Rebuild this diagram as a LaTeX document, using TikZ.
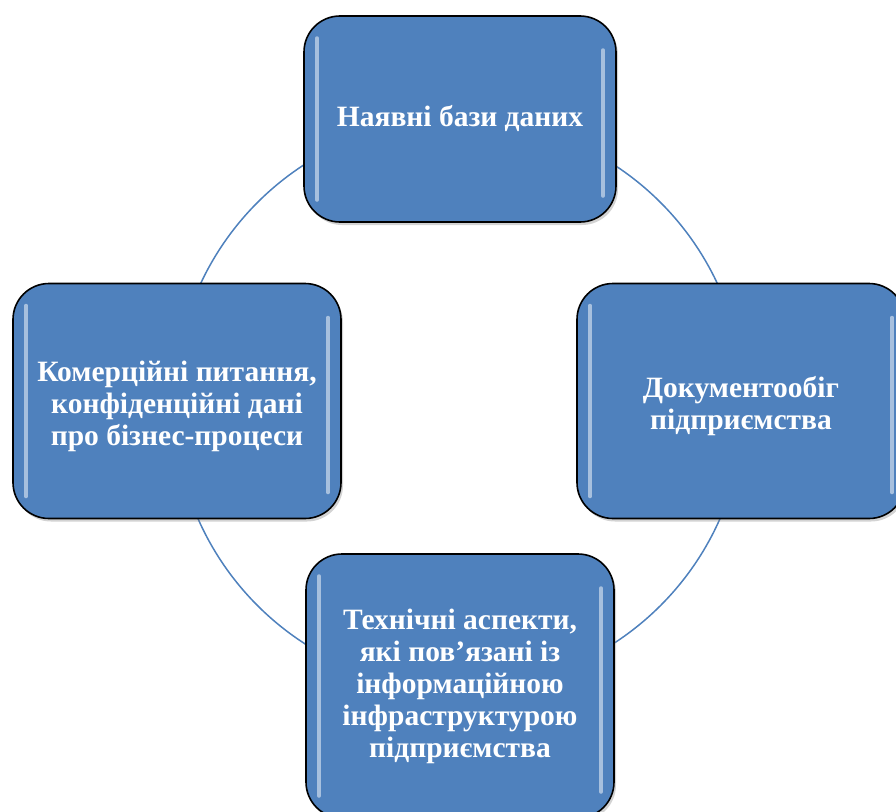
\documentclass[tikz,border=0pt]{standalone}
\usepackage{fontspec}
\setmainfont{Liberation Serif}
\usetikzlibrary{shadows}
\definecolor{boxblue}{RGB}{79,129,189}
\begin{document}
\begin{tikzpicture}[x=1pt,y=-1pt,
  box/.style={draw=black, line width=1.6pt, fill=boxblue, rounded corners=36pt,
    text=white, font=\bfseries\fontsize{29.5}{32}\selectfont, align=center, inner sep=0pt,
    drop shadow={opacity=0.35, shadow xshift=2pt, shadow yshift=-3pt},
    path picture={
      \draw[white, opacity=0.5, line width=3.5pt, line cap=round]
        ([xshift=13pt,yshift=-22pt]path picture bounding box.north west) --
        ([xshift=13pt,yshift=22pt]path picture bounding box.south west);
      \draw[white, opacity=0.5, line width=3.5pt, line cap=round]
        ([xshift=-13pt,yshift=-34pt]path picture bounding box.north east) --
        ([xshift=-13pt,yshift=26pt]path picture bounding box.south east);
    }},
  ring/.style={draw=boxblue, line width=1.5pt}]
\useasboundingbox (0,0) rectangle (896,811);
\clip (0,0) rectangle (896,811);
\coordinate (c) at (459,404);
\draw[ring] (c) circle[radius=285];
\node[box, minimum width=312pt, minimum height=206pt] (top) at (460,119) {Наявні бази даних};
\node[box, minimum width=328pt, minimum height=235pt] (right) at (741,401) {\raisebox{-5pt}[\height][\depth]{\parbox{300pt}{\centering Документообіг\\підприємства}}};
\node[box, minimum width=328pt, minimum height=235pt] (left) at (177,401) {\raisebox{-5pt}[\height][\depth]{\parbox{320pt}{\centering Комерційні питання,\\конфіденційні дані\\про бізнес-процеси}}};
\node[box, minimum width=308pt, minimum height=264pt] (bottom) at (460,686) {Технічні аспекти,\\які пов’язані із\\інформаційною\\інфраструктурою\\підприємства};
\end{tikzpicture}
\end{document}
